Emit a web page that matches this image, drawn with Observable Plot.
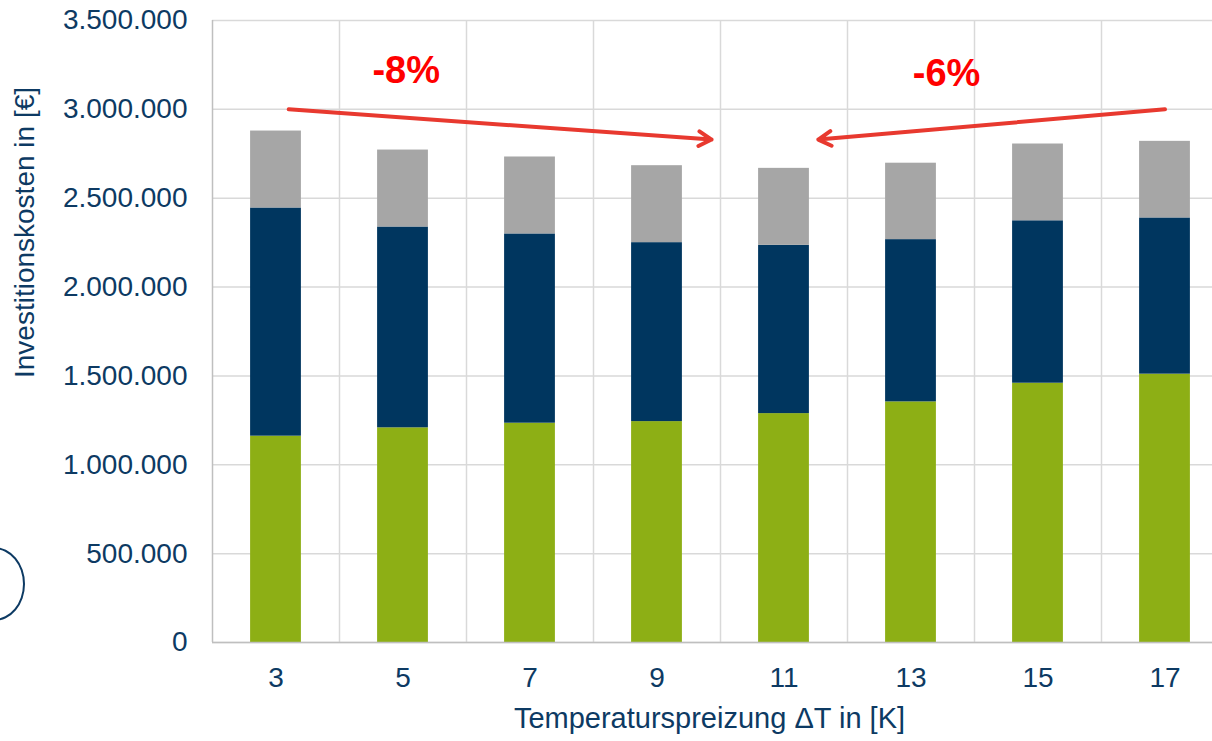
<!DOCTYPE html>
<html>
<head>
<meta charset="utf-8">
<script src="https://cdn.jsdelivr.net/npm/d3@7"></script>
<script src="https://cdn.jsdelivr.net/npm/@observablehq/plot@0.6"></script>
<style>
  html, body { margin: 0; padding: 0; background: #ffffff; overflow: hidden; }
  #wrap { position: relative; width: 1212px; height: 741px; }
  #oval { position: absolute; left: -37px; top: 547px; width: 62px; height: 74px;
          border: 2px solid #0d3a63; border-radius: 50%; box-sizing: border-box; }
</style>
</head>
<body>
<div id="wrap"><div id="oval"></div></div>
<script>
// ---- data ----
const deltaT = [3, 5, 7, 9, 11, 13, 15, 17];
const seriesNames = ["Anteil 1", "Anteil 2", "Anteil 3"];
const seriesColors = ["#8daf15", "#00365f", "#a6a6a6"];
const part1 = [1161000, 1208000, 1234000, 1243000, 1288000, 1354000, 1459000, 1510000];
const part2 = [1284000, 1130000, 1065000, 1007000, 947000, 913000, 914000, 879000];
const part3 = [433000, 433000, 433000, 433000, 433000, 430000, 432000, 431000];
const yTicks = [0, 500000, 1000000, 1500000, 2000000, 2500000, 3000000, 3500000];
const xTicks = deltaT;
const xDividers = [4, 6, 8, 10, 12, 14, 16];
const xLabel = "Temperaturspreizung ΔT in [K]";
const yLabel = "Investitionskosten in [€]";
const arrowsFrom = [{x: 3.2, y: 3000000}, {x: 17.0, y: 3000000}];
const arrowsTo = [{x: 9.86, y: 2830000}, {x: 11.54, y: 2830000}];
const noteText = ["-8%", "-6%"];
const noteX = [5.05, 13.56];
const noteY = [3219000, 3202000];

// ---- build tables ----
const parts = [part1, part2, part3];
const rects = [];
deltaT.forEach((t, i) => {
  let base = 0;
  parts.forEach((p, k) => {
    rects.push({t, series: seriesNames[k], y1: base, y2: base + p[i]});
    base += p[i];
  });
});
const arrows = arrowsFrom.map((a, i) => ({x1: a.x, y1: a.y, x2: arrowsTo[i].x, y2: arrowsTo[i].y}));
const notes = noteText.map((s, i) => ({text: s, x: noteX[i], y: noteY[i]}));

const halfBar = 0.4;
const textColor = "#0d3a63";

const chart = Plot.plot({
  width: 1212,
  height: 741,
  marginLeft: 212,
  marginRight: -16,
  marginTop: 20,
  marginBottom: 99,
  style: {fontFamily: "'Liberation Sans', Arial, sans-serif", fontSize: "28px", color: textColor, background: "#ffffff"},
  x: {domain: [2, 18], label: null},
  y: {domain: [0, 3500000], label: null},
  color: {domain: seriesNames, range: seriesColors},
  marks: [
    Plot.ruleY(yTicks, {stroke: "#d9d9d9", strokeWidth: 1.5}),
    Plot.ruleX(xDividers, {stroke: "#d9d9d9", strokeWidth: 1.5}),
    Plot.rect(rects, {x1: d => d.t - halfBar, x2: d => d.t + halfBar, y1: "y1", y2: "y2", fill: "series"}),
    Plot.ruleX([2], {stroke: "#bfbfbf", strokeWidth: 1.5}),
    Plot.ruleY([0], {stroke: "#bfbfbf", strokeWidth: 1.5}),
    Plot.axisY({ticks: yTicks, tickSize: 0, tickPadding: 25, label: null,
      tickFormat: d => d3.format(",")(d).replace(/,/g, ".")}),
    Plot.axisX({ticks: xTicks, tickSize: 0, tickPadding: 25, label: null, tickFormat: d => String(d)}),
    Plot.text([xLabel], {frameAnchor: "bottom", textAnchor: "middle", dx: -11, dy: 85, fill: textColor, fontSize: 29}),
    Plot.text([yLabel], {frameAnchor: "left", textAnchor: "middle", dx: -187, dy: -99, rotate: -90, fill: textColor, fontSize: 28}),
    Plot.arrow(arrows, {x1: "x1", y1: "y1", x2: "x2", y2: "y2", stroke: "#e8392f", strokeWidth: 4, headLength: 5.5, headAngle: 60}),
    Plot.text(notes, {x: "x", y: "y", text: "text", fill: "#ff0000", fontWeight: "bold", fontSize: 38})
  ]
});
document.getElementById("wrap").appendChild(chart);
</script>
</body>
</html>
